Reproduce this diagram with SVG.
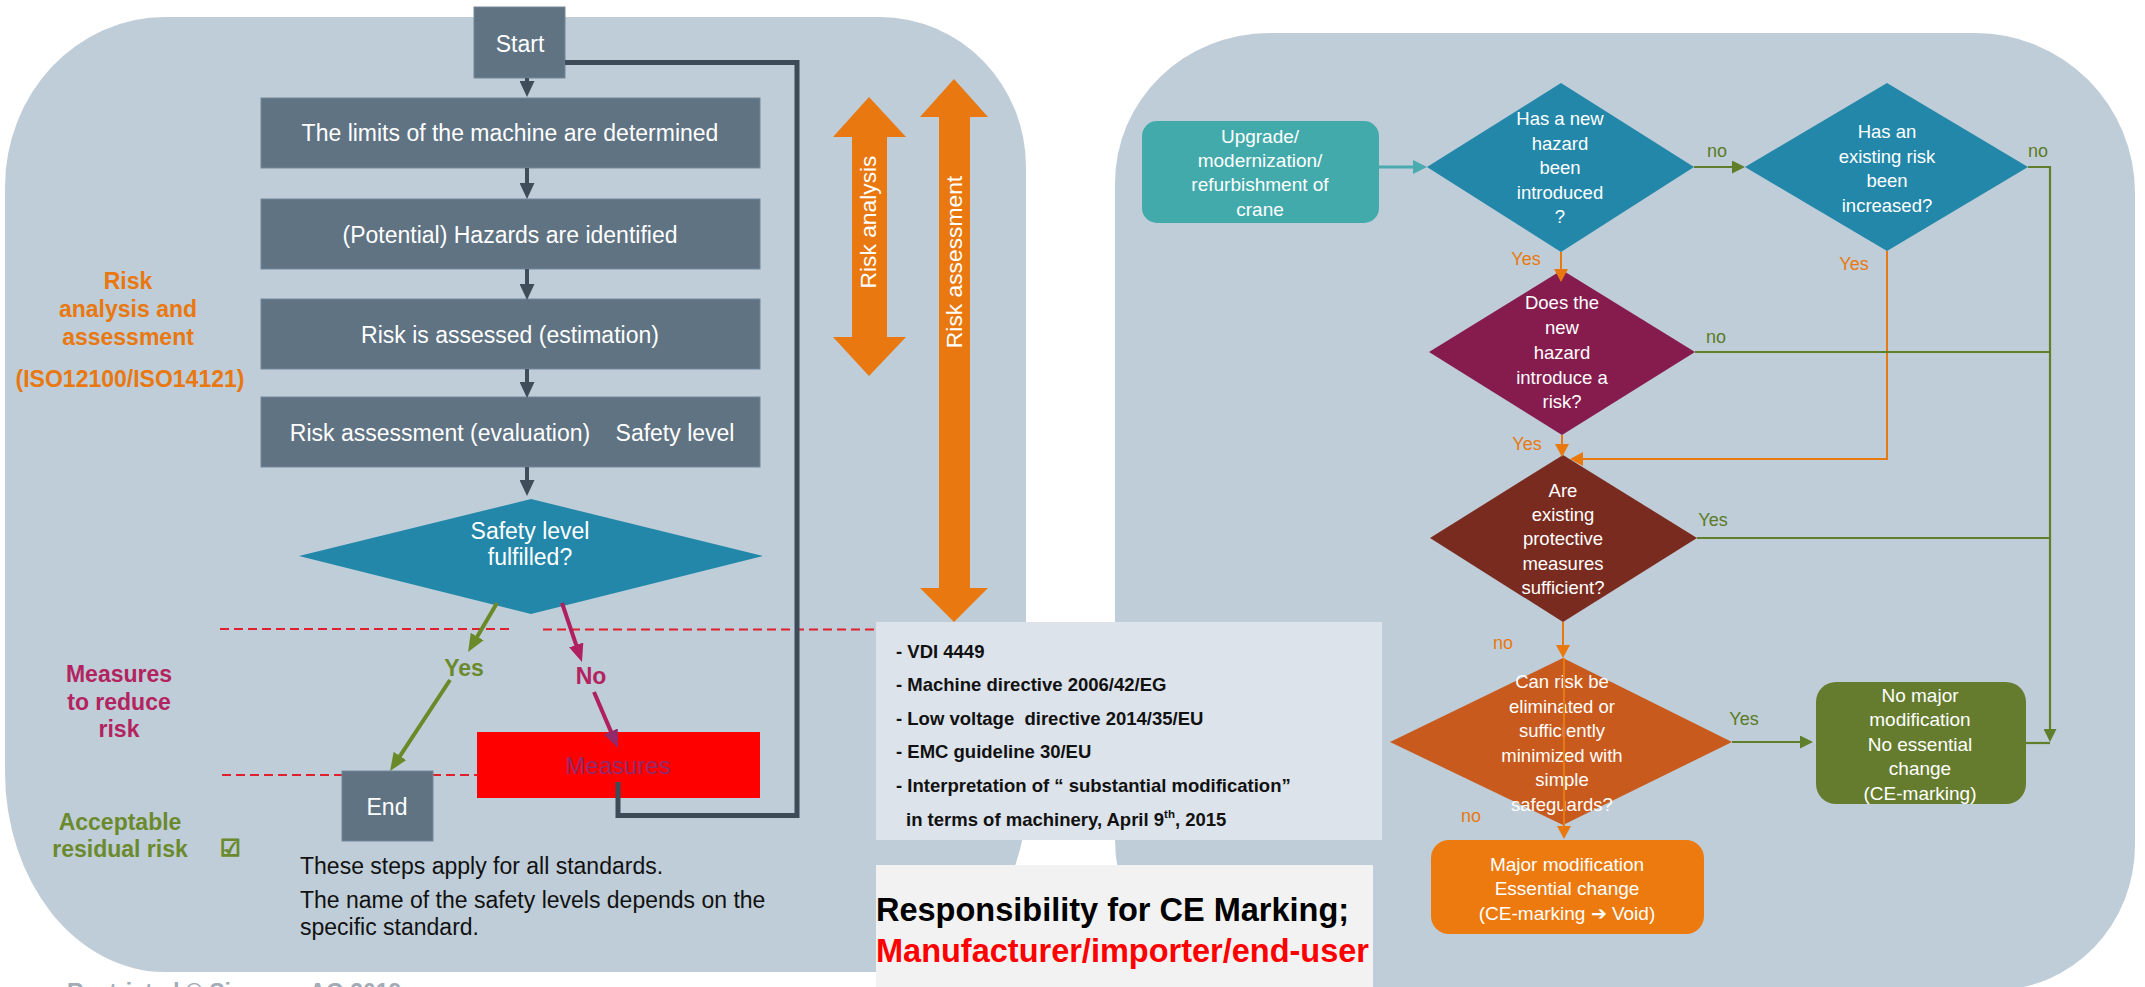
<svg xmlns="http://www.w3.org/2000/svg" width="2145" height="987" viewBox="0 0 2145 987">
<defs>
<style>
text{font-family:"Liberation Sans",Arial,Helvetica,sans-serif}
.panel{fill:#bfcdd8}
.slate{fill:#5f7383;stroke:#76889a;stroke-width:1}
.t23{font-size:23px;fill:#fff;text-anchor:middle}
.d{font-size:18.5px;fill:#fff;text-anchor:middle}
.b19{font-size:19px;fill:#fff;text-anchor:middle}
.lblO{font-size:18px;fill:#e8790f;text-anchor:middle}
.lblG{font-size:18px;fill:#5b7a25;text-anchor:middle}
.side{font-size:23px;font-weight:bold;text-anchor:middle}
.vdi{font-size:18.5px;font-weight:bold;fill:#111;white-space:pre}
.note{font-size:23px;fill:#111}
.dash{stroke:#e0202e;stroke-width:2;stroke-dasharray:9 5;fill:none}
.cDark{stroke:#3f4d5a;stroke-width:4;fill:none}
.cLoop{stroke:#3d4a57;stroke-width:5;fill:none}
.cGL{stroke:#6a8a2a;stroke-width:4;fill:none}
.cM{stroke:#b01f5e;stroke-width:4;fill:none}
.cG{stroke:#5f7f2a;stroke-width:2.2;fill:none}
.cO{stroke:#e8790f;stroke-width:2;fill:none}
.cT{stroke:#4aacae;stroke-width:3;fill:none}
.arr{fill:#e8780f}
</style>
<marker id="mDark" viewBox="0 0 16 15" refX="1" refY="7.5" markerWidth="16" markerHeight="15" markerUnits="userSpaceOnUse" orient="auto"><path d="M0,0 L16,7.5 L0,15 Z" fill="#3f4d5a"/></marker>
<marker id="mGL" viewBox="0 0 18 15" refX="1" refY="7.5" markerWidth="18" markerHeight="15" markerUnits="userSpaceOnUse" orient="auto"><path d="M0,0 L18,7.5 L0,15 Z" fill="#6a8a2a"/></marker>
<marker id="mM" viewBox="0 0 18 15" refX="1" refY="7.5" markerWidth="18" markerHeight="15" markerUnits="userSpaceOnUse" orient="auto"><path d="M0,0 L18,7.5 L0,15 Z" fill="#b01f5e"/></marker>
<marker id="mM2" viewBox="0 0 18 15" refX="1" refY="7.5" markerWidth="18" markerHeight="15" markerUnits="userSpaceOnUse" orient="auto"><path d="M0,0 L18,7.5 L0,15 Z" fill="#902a6c"/></marker>
<marker id="mO" viewBox="0 0 13 14" refX="1" refY="7" markerWidth="13" markerHeight="14" markerUnits="userSpaceOnUse" orient="auto"><path d="M0,0 L13,7 L0,14 Z" fill="#e8790f"/></marker>
<marker id="mG" viewBox="0 0 13 13" refX="1" refY="6.5" markerWidth="13" markerHeight="13" markerUnits="userSpaceOnUse" orient="auto"><path d="M0,0 L13,6.5 L0,13 Z" fill="#5f7f2a"/></marker>
<marker id="mT" viewBox="0 0 14 14" refX="1" refY="7" markerWidth="14" markerHeight="14" markerUnits="userSpaceOnUse" orient="auto"><path d="M0,0 L14,7 L0,14 Z" fill="#4aacae"/></marker>
</defs>

<rect width="2145" height="987" fill="#ffffff"/>

<!-- panels -->
<g id="panels">
<path class="panel" d="M165 17 H880 A146 150 0 0 1 1026 167 V802 A150 170 0 0 1 876 972 H165 A160 200 0 0 1 5 772 V187 A160 170 0 0 1 165 17 Z"/>
<path class="panel" d="M1269 33 H1975 A160 160 0 0 1 2135 193 V845 A140 145 0 0 1 1995 990 H1265 A150 150 0 0 1 1115 840 V183 A154 150 0 0 1 1269 33 Z"/>
</g>

<!-- dashed separators -->
<g id="separators">
<path class="dash" d="M220 629 H511"/>
<path class="dash" d="M543 629.5 H878"/>
<path class="dash" d="M222 775 H509"/>
</g>

<!-- side labels -->
<g id="labels-left">
<text class="side" fill="#e8780f" x="128" y="289">Risk</text>
<text class="side" fill="#e8780f" x="128" y="317">analysis and</text>
<text class="side" fill="#e8780f" x="128" y="345">assessment</text>
<text class="side" fill="#e8780f" x="130" y="387">(ISO12100/ISO14121)</text>
<text class="side" fill="#b3235f" x="119" y="682">Measures</text>
<text class="side" fill="#b3235f" x="119" y="710">to reduce</text>
<text class="side" fill="#b3235f" x="119" y="737">risk</text>
<text class="side" fill="#6b8a2d" x="120" y="830">Acceptable</text>
<text class="side" fill="#6b8a2d" x="120" y="857">residual risk</text>
<text x="220" y="856" font-family="DejaVu Sans,sans-serif" font-size="23" fill="#6b8a2d" stroke="#6b8a2d" stroke-width="1.3">☑</text>
</g>

<!-- orange double arrows -->
<g id="risk-analysis">
<polygon class="arr" points="869,97 906,137 887,137 887,337 906,337 869,376 833,337 852,337 852,137 833,137"/>
<text transform="translate(876,222) rotate(-90)" font-size="22.8" fill="#fff" text-anchor="middle">Risk analysis</text>
</g>
<g id="risk-assessment">
<polygon class="arr" points="954,79 988,117 970,117 970,588 988,588 954,622 920,588 939,588 939,117 920,117"/>
<text transform="translate(962,262) rotate(-90)" font-size="22.8" fill="#fff" text-anchor="middle">Risk assessment</text>
</g>

<!-- left flow nodes -->
<g id="start"><rect class="slate" x="474" y="7" width="91" height="71"/><text class="t23" x="520" y="52">Start</text></g>
<g id="limits"><rect class="slate" x="261" y="98" width="499" height="70"/><text class="t23" x="510" y="141">The limits of the machine are determined</text></g>
<g id="hazards"><rect class="slate" x="261" y="199" width="499" height="70"/><text class="t23" x="510" y="243">(Potential) Hazards are identified</text></g>
<g id="estimation"><rect class="slate" x="261" y="299" width="499" height="70"/><text class="t23" x="510" y="343">Risk is assessed (estimation)</text></g>
<g id="evaluation"><rect class="slate" x="261" y="397" width="499" height="70"/><text class="t23" x="440" y="441">Risk assessment (evaluation)</text><text class="t23" x="675" y="441">Safety level</text></g>
<g id="fulfilled"><polygon points="531,499 763,556 531,614 299,556" fill="#2387aa"/><text class="t23" x="530" y="539">Safety level</text><text class="t23" x="530" y="565">fulfilled?</text></g>
<g id="measures"><rect x="477" y="732" width="283" height="66" fill="#ff0000"/><text x="618" y="774" font-size="24" fill="#8e2b6c" text-anchor="middle">Measures</text></g>
<g id="end"><rect class="slate" x="342" y="771" width="91" height="70"/><text class="t23" x="387" y="815">End</text></g>

<g id="note">
<text class="note" x="300" y="874">These steps apply for all standards.</text>
<text class="note" x="300" y="908">The name of the safety levels depends on the</text>
<text class="note" x="300" y="935">specific standard.</text>
</g>

<!-- reference box -->
<g id="references">
<rect x="876" y="622" width="506" height="218" fill="#dce3ea"/>
<text class="vdi" x="896" y="658">- VDI 4449</text>
<text class="vdi" x="896" y="691">- Machine directive 2006/42/EG</text>
<text class="vdi" x="896" y="725">- Low voltage  directive 2014/35/EU</text>
<text class="vdi" x="896" y="758">- EMC guideline 30/EU</text>
<text class="vdi" x="896" y="792">- Interpretation of “ substantial modification”</text>
<text class="vdi" x="906" y="826">in terms of machinery, April 9<tspan font-size="11.5" dy="-8">th</tspan><tspan dy="8">, 2015</tspan></text>
</g>

<g id="responsibility">
<rect x="876" y="865" width="497" height="130" fill="#f2f2f2"/>
<text x="876" y="921" font-size="32.5" font-weight="bold" fill="#000">Responsibility for CE Marking;</text>
<text x="876" y="962" font-size="32.5" font-weight="bold" fill="#ff0000">Manufacturer/importer/end-user</text>
</g>

<!-- right flow nodes -->
<g id="upgrade"><rect x="1142" y="121" width="237" height="102" rx="15" fill="#42aaab"/>
<text class="b19" x="1260" y="143">Upgrade/</text><text class="b19" x="1260" y="167">modernization/</text><text class="b19" x="1260" y="191">refurbishment of</text><text class="b19" x="1260" y="216">crane</text></g>
<g id="new-hazard"><polygon points="1561,83 1694,167 1561,252 1427,167" fill="#2387aa"/>
<text class="d" x="1560" y="125">Has a new</text><text class="d" x="1560" y="150">hazard</text><text class="d" x="1560" y="174">been</text><text class="d" x="1560" y="199">introduced</text><text class="d" x="1560" y="223">?</text></g>
<g id="risk-increased"><polygon points="1887,83 2028,167 1887,251 1745,167" fill="#2387aa"/>
<text class="d" x="1887" y="138">Has an</text><text class="d" x="1887" y="163">existing risk</text><text class="d" x="1887" y="187">been</text><text class="d" x="1887" y="212">increased?</text></g>
<g id="introduce-risk"><polygon points="1562,270 1695,352 1562,435 1429,352" fill="#861c4e"/>
<text class="d" x="1562" y="309">Does the</text><text class="d" x="1562" y="334">new</text><text class="d" x="1562" y="359">hazard</text><text class="d" x="1562" y="384">introduce a</text><text class="d" x="1562" y="408">risk?</text></g>
<g id="protective"><polygon points="1563,455 1697,538 1563,622 1430,538" fill="#7a2b1f"/>
<text class="d" x="1563" y="497">Are</text><text class="d" x="1563" y="521">existing</text><text class="d" x="1563" y="545">protective</text><text class="d" x="1563" y="570">measures</text><text class="d" x="1563" y="594">sufficient?</text></g>
<g id="safeguards"><polygon points="1563,658 1732,742 1563,825 1390,742" fill="#c95a1d"/>
<text class="d" x="1562" y="688">Can risk be</text><text class="d" x="1562" y="713">eliminated or</text><text class="d" x="1562" y="737">sufficiently</text><text class="d" x="1562" y="762">minimized with</text><text class="d" x="1562" y="786">simple</text><text class="d" x="1562" y="811">safeguards?</text></g>
<g id="no-major"><rect x="1816" y="682" width="210" height="122" rx="20" fill="#657c2e"/>
<text class="b19" x="1920" y="702">No major</text><text class="b19" x="1920" y="726">modification</text><text class="b19" x="1920" y="751">No essential</text><text class="b19" x="1920" y="775">change</text><text class="b19" x="1920" y="800">(CE-marking)</text></g>
<g id="major"><rect x="1431" y="840" width="273" height="94" rx="18" fill="#ec7a0e"/>
<text class="b19" x="1567" y="871">Major modification</text><text class="b19" x="1567" y="895">Essential change</text><text class="b19" x="1567" y="920">(CE-marking ➔ Void)</text></g>

<!-- connectors -->
<g id="connectors">
<path class="cDark" d="M527 78 V82" marker-end="url(#mDark)"/>
<path class="cDark" d="M527 168 V184" marker-end="url(#mDark)"/>
<path class="cDark" d="M527 269 V285" marker-end="url(#mDark)"/>
<path class="cDark" d="M527 369 V383" marker-end="url(#mDark)"/>
<path class="cDark" d="M527 467 V481" marker-end="url(#mDark)"/>
<path class="cLoop" d="M565 62.5 H797 V815.5 H618 V782"/>
<path class="cGL" d="M497 603 L476.7 637.4" marker-end="url(#mGL)"/>
<path class="cGL" d="M450 680 L399.4 756.8" marker-end="url(#mGL)"/>
<path class="cM" d="M562 603 L576.5 645.9" marker-end="url(#mM)"/>
<path class="cM" d="M594 692 L611.3 732.4" marker-end="url(#mM2)"/>

<path class="cT" d="M1379 167 H1414" marker-end="url(#mT)"/>
<path class="cG" d="M1694 167 H1733" marker-end="url(#mG)"/>
<path class="cO" d="M1561 252 V270" marker-end="url(#mO)"/>
<path class="cO" d="M1562 435 V445" marker-end="url(#mO)"/>
<path class="cO" d="M1887 251 V459 H1582" marker-end="url(#mO)"/>
<path class="cO" d="M1563 622 V646" marker-end="url(#mO)"/>
<path class="cO" d="M1564 658 V827" stroke-width="1.5" marker-end="url(#mO)"/>
<path class="cG" d="M1732 742 H1801" marker-end="url(#mG)"/>
<path class="cG" d="M2028 167 H2050 V730" marker-end="url(#mG)"/>
<path class="cG" d="M1695 352 H2050"/>
<path class="cG" d="M1697 538 H2050"/>
<path class="cG" d="M2026 743 H2050"/>

<text class="side" fill="#6b8a2d" x="464" y="676">Yes</text>
<text class="side" fill="#b3235f" x="591" y="684">No</text>
<text class="lblO" x="1526" y="265">Yes</text>
<text class="lblO" x="1527" y="450">Yes</text>
<text class="lblO" x="1854" y="270">Yes</text>
<text class="lblO" x="1503" y="649">no</text>
<text class="lblO" x="1471" y="822">no</text>
<text class="lblG" x="1717" y="157">no</text>
<text class="lblG" x="2038" y="157">no</text>
<text class="lblG" x="1716" y="343">no</text>
<text class="lblG" x="1713" y="526">Yes</text>
<text class="lblG" x="1744" y="725">Yes</text>
</g>

<text x="67" y="1000" font-size="23" font-weight="bold" fill="#a3acb6">Restricted © Siemens AG 2019</text>
</svg>
